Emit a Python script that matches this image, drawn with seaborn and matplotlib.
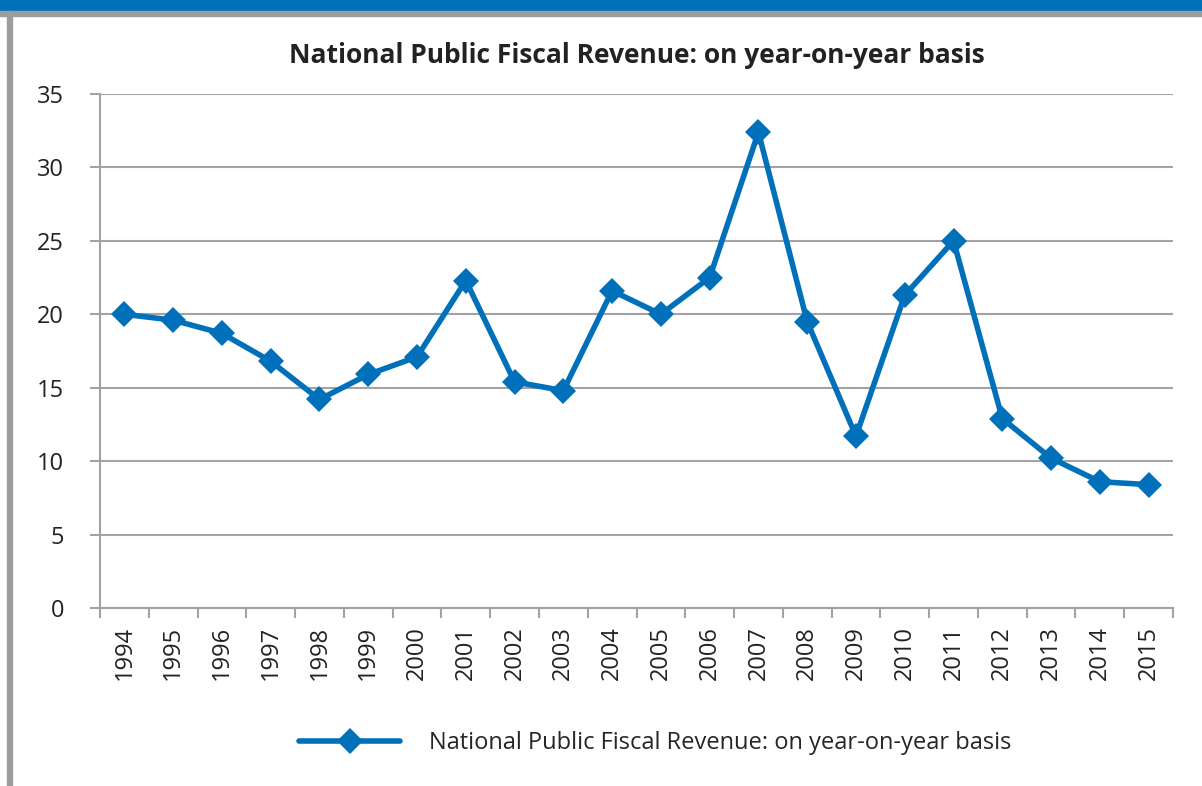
import pandas as pd
import numpy as np
import matplotlib
matplotlib.use("Agg")
import matplotlib.pyplot as plt
import seaborn as sns
from matplotlib.patches import Rectangle
from matplotlib.ticker import FixedLocator

years = [str(y) for y in range(1994, 2016)]
growth = [20.0, 19.6, 18.7, 16.8, 14.2, 15.9, 17.1, 22.3, 15.4, 14.8, 21.6,
          20.0, 22.5, 32.4, 19.5, 11.7, 21.3, 25.0, 12.9, 10.2, 8.6, 8.4]
series_name = "National Public Fiscal Revenue: on year-on-year basis"

sns.set_theme(style="white")
plt.rcParams['font.family'] = ['Open Sans', 'DejaVu Sans']

blue = "#0070BA"
grid_gray = "#A3A3A6"

df = pd.DataFrame({"year": years, "growth": growth})

fig = plt.figure(figsize=(12.02, 7.86), dpi=100)
ax = fig.add_axes([100 / 1202, 1 - 608 / 786, 1073 / 1202, 514 / 786])

sns.lineplot(data=df, x="year", y="growth", ax=ax, color=blue, linewidth=4,
             marker="D", markersize=13.5, markeredgewidth=0, label=series_name,
             sort=False)

ax.set_xlim(-0.5, len(years) - 0.5)
ax.set_ylim(0, 35)
ax.set_yticks(range(0, 36, 5))
ax.yaxis.grid(True, color=grid_gray, linewidth=1.5)
ax.set_axisbelow(True)
ax.set_title(series_name, fontsize=19, fontweight="bold", color="#222222", pad=22)
ax.set_xlabel("")
ax.set_ylabel("")

for side in ["top", "right"]:
    ax.spines[side].set_visible(False)
for side in ["left", "bottom"]:
    ax.spines[side].set_color(grid_gray)
    ax.spines[side].set_linewidth(1.5)

ax.tick_params(axis="y", which="major", left=True, length=7, width=1.5,
               color=grid_gray, labelsize=17, labelcolor="#222222", pad=19)
ax.set_xticks(range(len(years)))
ax.set_xticklabels(years, rotation=90)
ax.tick_params(axis="x", which="major", bottom=False, length=0, labelsize=17,
               labelcolor="#222222", pad=13)
ax.xaxis.set_minor_locator(FixedLocator(np.arange(-0.5, len(years), 1)))
ax.tick_params(axis="x", which="minor", bottom=True, length=7, width=1.5,
               color=grid_gray)

ax.get_legend().remove()
handles, labels = ax.get_legend_handles_labels()
fig.legend(handles, labels, loc="center", bbox_to_anchor=(0.545, 0.055),
           frameon=False, fontsize=17, handlelength=4.3, handletextpad=1.2)

# page decorations: blue header band, grey rules
fig.patches.append(Rectangle((0, 1 - 11 / 786), 1, 11 / 786, transform=fig.transFigure,
                             color=blue, zorder=0))
fig.patches.append(Rectangle((0, 1 - 16 / 786), 1, 5 / 786, transform=fig.transFigure,
                             color="#9D9DA0", zorder=0))
fig.patches.append(Rectangle((7 / 1202, 0), 5 / 1202, 1 - 11 / 786, transform=fig.transFigure,
                             color="#9D9DA0", zorder=0))

fig.savefig("out.png", dpi=100)
